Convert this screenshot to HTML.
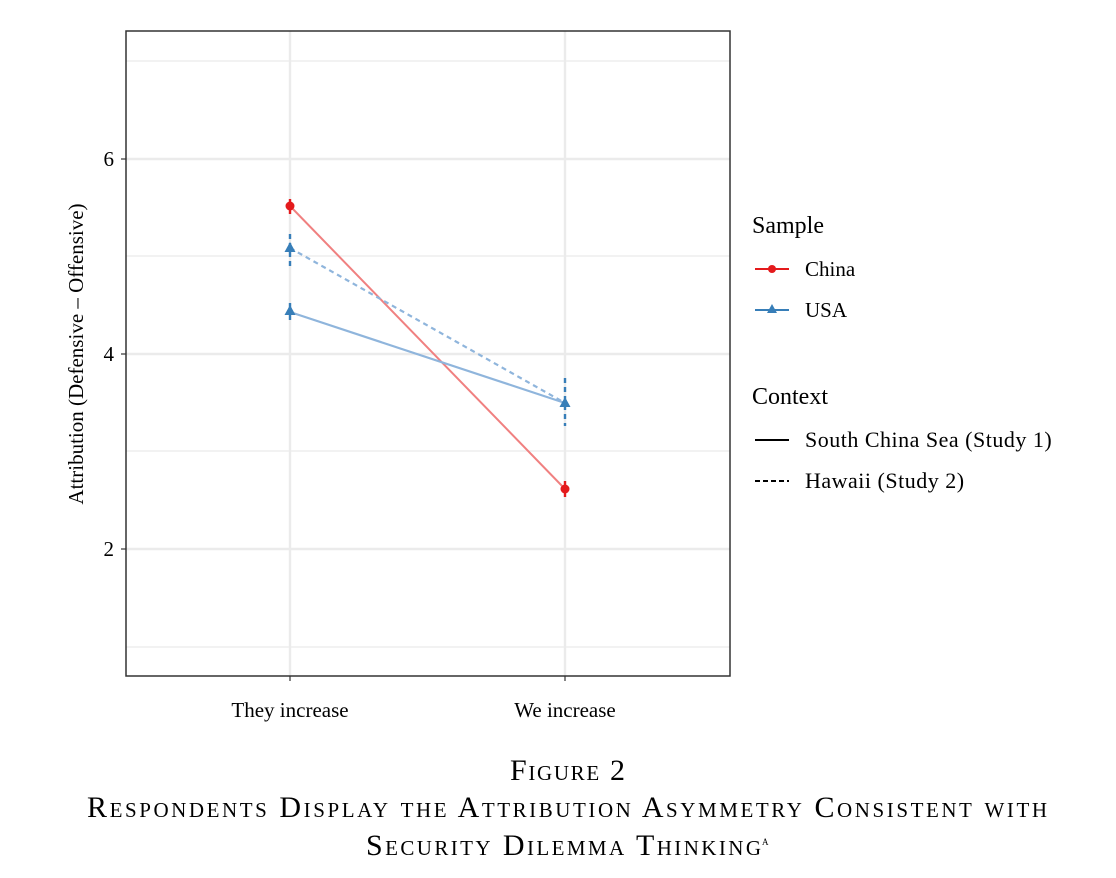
<!DOCTYPE html>
<html><head><meta charset="utf-8"><style>
html,body{margin:0;padding:0;background:#fff;}
svg{display:block;font-family:"Liberation Serif",serif;}
</style></head><body>
<svg width="1116" height="878" viewBox="0 0 1116 878" xmlns="http://www.w3.org/2000/svg">
<rect width="1116" height="878" fill="#fff"/>
<g stroke="#ebebeb" stroke-width="1.2">
<line x1="126" x2="730" y1="61" y2="61"/><line x1="126" x2="730" y1="256" y2="256"/>
<line x1="126" x2="730" y1="451" y2="451"/><line x1="126" x2="730" y1="647" y2="647"/>
</g>
<g stroke="#ebebeb" stroke-width="2.4">
<line x1="126" x2="730" y1="159" y2="159"/><line x1="126" x2="730" y1="354" y2="354"/>
<line x1="126" x2="730" y1="549" y2="549"/>
<line x1="290" x2="290" y1="31" y2="676"/><line x1="565" x2="565" y1="31" y2="676"/>
</g>
<line x1="290" y1="206" x2="565" y2="489" stroke="#f08080" stroke-width="2"/>
<line x1="290" y1="312" x2="565" y2="403" stroke="#8fb5dc" stroke-width="2.2"/>
<line x1="290" y1="248" x2="565" y2="403" stroke="#8fb5dc" stroke-width="2.2" stroke-dasharray="5,4"/>
<g stroke-width="2.4">
<line x1="290" x2="290" y1="199" y2="214" stroke="#e41a1c"/>
<line x1="565" x2="565" y1="481" y2="497" stroke="#e41a1c"/>
<line x1="290" x2="290" y1="303" y2="320" stroke="#377eb8"/>
<line x1="290" x2="290" y1="234" y2="268" stroke="#377eb8" stroke-dasharray="5,4"/>
<line x1="565" x2="565" y1="378" y2="426" stroke="#377eb8" stroke-dasharray="5,4"/>
</g>
<circle cx="290" cy="206" r="4.5" fill="#e41a1c"/>
<circle cx="565" cy="489" r="4.5" fill="#e41a1c"/>
<polygon points="290,242 295.5,252 284.5,252" fill="#377eb8"/>
<polygon points="290,305 295.5,315 284.5,315" fill="#377eb8"/>
<polygon points="565,397 570.5,407 559.5,407" fill="#377eb8"/>
<rect x="126" y="31" width="604" height="645" fill="none" stroke="#333" stroke-width="1.5"/>
<g stroke="#333" stroke-width="1.2">
<line x1="121" x2="126" y1="159" y2="159"/><line x1="121" x2="126" y1="354" y2="354"/><line x1="121" x2="126" y1="549" y2="549"/>
<line x1="290" x2="290" y1="676" y2="681"/><line x1="565" x2="565" y1="676" y2="681"/>
</g>
<g font-size="21" fill="#000" text-anchor="end">
<text x="114" y="166">6</text><text x="114" y="361">4</text><text x="114" y="556">2</text>
</g>
<g font-size="21" fill="#000" text-anchor="middle">
<text x="290" y="717">They increase</text><text x="565" y="717">We increase</text>
</g>
<text transform="translate(83,354) rotate(-90)" font-size="21" text-anchor="middle">Attribution (Defensive – Offensive)</text>
<text x="752" y="233" font-size="24">Sample</text>
<line x1="755" x2="789" y1="269" y2="269" stroke="#e41a1c" stroke-width="2"/>
<circle cx="772" cy="269" r="4" fill="#e41a1c"/>
<text x="805" y="276" font-size="21">China</text>
<line x1="755" x2="789" y1="310" y2="310" stroke="#377eb8" stroke-width="2"/>
<polygon points="772,304 777,313 767,313" fill="#377eb8"/>
<text x="805" y="317" font-size="21">USA</text>
<text x="752" y="404" font-size="24">Context</text>
<line x1="755" x2="789" y1="440" y2="440" stroke="#000" stroke-width="2"/>
<text x="805" y="447" font-size="22" letter-spacing="0.5">South China Sea (Study 1)</text>
<line x1="755" x2="789" y1="481" y2="481" stroke="#000" stroke-width="2" stroke-dasharray="5,3"/>
<text x="805" y="488" font-size="22" letter-spacing="0.5">Hawaii (Study 2)</text>
<g font-size="30" style="font-variant:small-caps">
<text x="510" y="780" textLength="115" lengthAdjust="spacing">Figure 2</text>
<text x="87" y="817" textLength="960" lengthAdjust="spacing">Respondents Display the Attribution Asymmetry Consistent with</text>
<text x="366" y="855" textLength="395" lengthAdjust="spacing">Security Dilemma Thinking</text>
<text x="762" y="845" font-size="13">a</text>
</g>
</svg>
</body></html>
